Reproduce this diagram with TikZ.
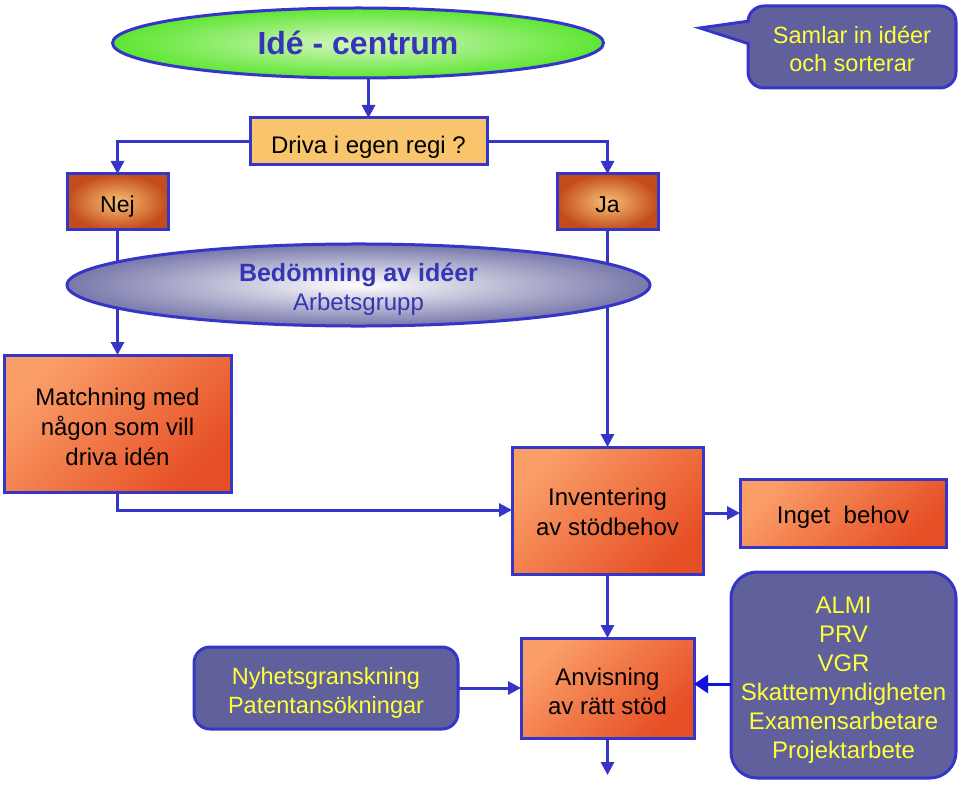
\documentclass[tikz,border=0pt]{standalone}
\usepackage{fontspec}
\setmainfont{Liberation Sans}
\usetikzlibrary{arrows.meta,shapes.geometric}
\definecolor{bline}{HTML}{3535C8}
\definecolor{btext}{HTML}{3535B5}
\definecolor{slate}{HTML}{60609C}
\definecolor{yel}{HTML}{FFFF3A}
\definecolor{orL}{HTML}{FA9E68}
\definecolor{orD}{HTML}{E64F25}
\definecolor{pale}{HTML}{F8C46C}
\definecolor{grL}{HTML}{D6F6C2}
\definecolor{grD}{HTML}{5EE632}
\definecolor{njL}{HTML}{F7C074}
\definecolor{njD}{HTML}{C44C1C}
\definecolor{bright}{HTML}{1010E0}
\newcommand\dn[2]{\raisebox{-#1}[\height][\depth]{\begin{tabular}{@{}c@{}}#2\end{tabular}}}
\tikzset{
  x=1pt, y=-1pt,
  base/.style={draw=bline, line width=3pt, inner sep=0pt, outer sep=0pt, align=center, font=\fontsize{24}{30}\selectfont},
  orbox/.style={base, top color=orL, bottom color=orD, shading angle=45},
  ynbox/.style={base, rectangle, inner color=njL, outer color=njD, font=\fontsize{23}{26}\selectfont},
  slatebox/.style={base, fill=slate, rounded corners=16pt, text=yel},
  conn/.style={draw=bline, line width=3pt, -{Triangle[length=13pt,width=13pt]}},
}
\begin{document}
\begin{tikzpicture}
\useasboundingbox (0,0) rectangle (960,786);

% top ellipse
\node[base, ellipse, inner color=grL, outer color=grD, minimum width=491pt, minimum height=70pt, text=btext, font=\fontsize{32}{34}\selectfont\bfseries] (idea) at (358,43) {\dn{5pt}{Idé - centrum}};

% callout
\node[slatebox, minimum width=208pt, minimum height=82pt, font=\fontsize{23.5}{28}\selectfont] (call) at (852,47) {\dn{5pt}{Samlar in idéer\\och sorterar}};
\fill[slate] (754,20) -- (700,28) -- (754,46) -- cycle;
\draw[bline, line width=3pt, line join=miter] (749.5,21) -- (700,28) -- (749.5,44);

% decision box
\node[base, fill=pale, minimum width=237pt, minimum height=47pt] (driva) at (368.5,141.5) {\dn{6pt}{Driva i egen regi ?}};

% yes/no
\node[ynbox, minimum width=101pt, minimum height=56pt] (nej) at (117.5,202) {\dn{5pt}{Nej}};
\node[ynbox, minimum width=101pt, minimum height=56pt] (ja) at (607.5,202) {\dn{5pt}{Ja}};

% boxes
\node[orbox, minimum width=227pt, minimum height=137pt] (match) at (117.5,423.5) {\dn{6pt}{Matchning med\\någon som vill\\driva idén}};
\node[orbox, minimum width=191pt, minimum height=127pt] (inv) at (607.5,510.5) {\dn{4pt}{Inventering\\av stödbehov}};
\node[orbox, minimum width=206pt, minimum height=68pt] (inget) at (843,513) {\dn{4pt}{Inget\ \ behov}};
\node[orbox, minimum width=173pt, minimum height=100pt, font=\fontsize{24}{29}\selectfont] (anv) at (607.5,688) {\dn{6pt}{Anvisning\\av rätt stöd}};
\node[slatebox, minimum width=264pt, minimum height=82pt, font=\fontsize{23.5}{29}\selectfont] (nyhet) at (326,688) {\dn{5pt}{Nyhetsgranskning\\Patentansökningar}};
\node[slatebox, minimum width=225pt, minimum height=206pt, rounded corners=26pt, font=\fontsize{24}{29}\selectfont] (almi) at (843.5,675) {\dn{5pt}{ALMI\\PRV\\VGR\\Skattemyndigheten\\Examensarbetare\\Projektarbete}};

% connectors (behind the assessment ellipse)
\draw[conn] (idea.south -| driva.north) -- (driva.north);
\draw[conn] (driva.west) -| (nej.north);
\draw[conn] (driva.east) -| (ja.north);
\draw[conn] (nej.south) -- (match.north);
\draw[conn] (ja.south) -- (inv.north);
\draw[conn] (match.south) |- (inv.west |- 0,510);
\draw[conn] (inv.east |- inget.west) -- (inget.west);
\draw[conn] (inv.south) -- (anv.north);
\draw[conn] (nyhet.east) -- (anv.west |- nyhet.east);
\coordinate (end) at (607.5,775);
\draw[conn] (anv.south) -- (end);
\draw[draw=bright, line width=3pt, -{Triangle[length=14pt,width=18pt]}] (almi.west |- 0,684) -- (anv.east |- 0,684);

% assessment ellipse on top of lines
\node[base, ellipse, inner color=white, outer color=slate!85, minimum width=583pt, minimum height=76pt, text=btext, font=\fontsize{24}{29}\selectfont] (bed) at (358.5,285) {\dn{5pt}{\textbf{\fontsize{25}{29}\selectfont Bedömning av idéer}\\Arbetsgrupp}};
\end{tikzpicture}
\end{document}
